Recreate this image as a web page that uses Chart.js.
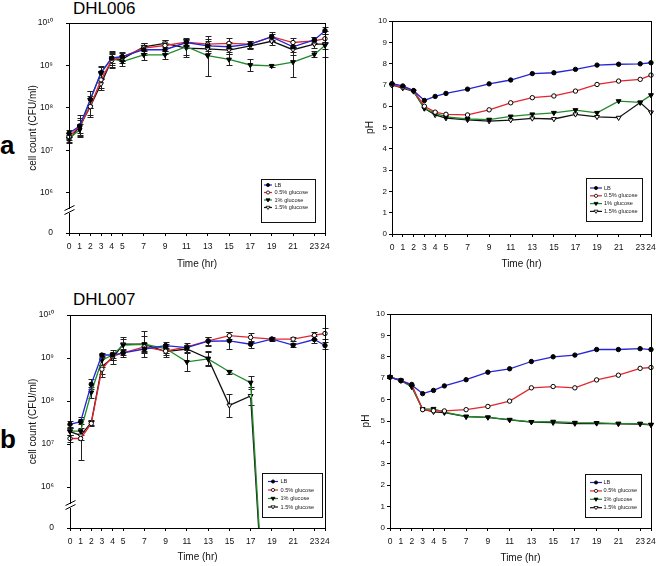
<!DOCTYPE html>
<html><head><meta charset="utf-8">
<script src="https://cdn.jsdelivr.net/npm/chart.js@4.4.1/dist/chart.umd.min.js"></script>
<style>
html,body{margin:0;padding:0;background:#fff;}
body{width:656px;height:566px;position:relative;overflow:hidden;font-family:'Liberation Sans',Arial,sans-serif;}
canvas{position:absolute;}
.lbl{position:absolute;line-height:1;color:#000;white-space:nowrap;}
</style></head><body>
<div class="lbl" style="left:73px;top:0px;font-size:17px;">DHL006</div>
<div class="lbl" style="left:73px;top:291px;font-size:17px;">DHL007</div>
<div class="lbl" style="left:0px;top:132px;font-size:26px;font-weight:bold;">a</div>
<div class="lbl" style="left:0px;top:426px;font-size:26px;font-weight:bold;">b</div>
<canvas id="c1" width="330" height="282" style="left:0;top:0;"></canvas>
<canvas id="c2" width="326" height="282" style="left:330px;top:0;"></canvas>
<canvas id="c3" width="330" height="284" style="left:0;top:282px;"></canvas>
<canvas id="c4" width="326" height="284" style="left:330px;top:282px;"></canvas>
<script>
// ---------- data ----------
const timeHours = [0,1,2,3,4,5,7,9,11,13,15,17,19,21,23,24];
const seriesLabels = ['LB','0.5% glucose','1% glucose','1.5% glucose'];

const cfuTickValues = [5.05,6,7,8,9,10];          // log10 positions ("0" sits at the broken-axis bottom)
const cfuTickLabels = ['0','10⁶','10⁷','10⁸','10⁹','10¹⁰'];
const phTickValues = [0,1,2,3,4,5,6,7,8,9,10];

// DHL006 cell count, log10(CFU/ml)
const dhl006CfuLB  = [7.40,7.57,8.20,8.83,9.17,9.21,9.37,9.37,9.54,9.46,9.44,9.50,9.67,9.44,9.60,9.82];
const dhl006Cfu05  = [7.32,7.57,8.03,8.66,9.12,9.20,9.41,9.47,9.55,9.50,9.52,9.50,9.68,9.54,9.58,9.63];
const dhl006Cfu1   = [7.28,7.48,8.19,8.82,9.17,9.09,9.25,9.25,9.44,9.23,9.14,9.01,8.99,9.08,9.26,9.47];
const dhl006Cfu15  = [7.24,7.56,8.03,8.56,9.13,9.15,9.44,9.52,9.41,9.39,9.36,9.46,9.57,9.37,9.50,9.50];
// DHL006 error (± log10)
const dhl006ErrLB  = [0.08,0.20,0.20,0.15,0.15,0.10,0.12,0.10,0.08,0.12,0.12,0.08,0.08,0.12,0.08,0.08];
const dhl006Err05  = [0.08,0.25,0.20,0.20,0.15,0.10,0.12,0.12,0.08,0.12,0.12,0.08,0.10,0.10,0.08,0.10];
const dhl006Err1   = [0.08,0.15,0.20,0.15,0.12,0.10,0.12,0.10,0.20,0.47,0.12,0.15,0.03,0.35,0.07,0.08];
const dhl006Err15  = [0.08,0.15,0.25,0.15,0.20,0.10,0.10,0.08,0.20,0.10,0.10,0.08,0.10,0.12,0.10,0.30];

// DHL007 cell count, log10(CFU/ml); 0 = no viable count (drops off the axis)
const dhl007CfuLB  = [7.46,7.52,8.39,9.07,9.07,9.12,9.21,9.29,9.24,9.39,9.40,9.32,9.44,9.30,9.43,9.29];
const dhl007Cfu05  = [7.13,7.13,7.48,8.74,9.04,9.12,9.26,9.16,9.26,9.40,9.52,9.48,9.44,9.44,9.53,9.57];
const dhl007Cfu1   = [7.30,7.30,8.20,8.95,9.07,9.30,9.32,9.22,8.91,8.98,8.68,8.43,0,0,0,0];
const dhl007Cfu15  = [7.29,7.20,7.50,8.80,9.00,9.32,9.32,9.15,9.21,8.99,7.90,8.12,0,0,0,0];
const dhl007ErrLB  = [0.08,0.06,0.12,0.05,0.06,0.06,0.08,0.08,0.06,0.10,0.20,0.08,0.04,0.05,0.08,0.08];
const dhl007Err05  = [0.08,0.50,0.05,0.10,0.08,0.10,0.10,0.08,0.08,0.10,0.08,0.10,0.03,0.05,0.08,0.12];
const dhl007Err1   = [0.10,0.08,0.12,0.15,0.12,0.15,0.20,0.10,0.22,0.15,0.05,0.15,0,0,0,0];
const dhl007Err15  = [0.08,0.10,0.05,0.25,0.15,0.18,0.30,0.12,0.10,0.18,0.27,0.20,0,0,0,0];

// pH
const dhl006PhLB   = [7.06,6.95,6.73,6.27,6.46,6.60,6.80,7.05,7.23,7.53,7.57,7.73,7.93,7.97,7.99,8.04];
const dhl006Ph05   = [7.00,6.89,6.73,6.00,5.72,5.62,5.59,5.83,6.16,6.40,6.48,6.71,7.02,7.18,7.26,7.46];
const dhl006Ph1    = [7.00,6.90,6.70,5.90,5.67,5.50,5.40,5.37,5.52,5.62,5.69,5.82,5.69,6.24,6.18,6.52];
const dhl006Ph15   = [7.00,6.85,6.70,5.90,5.59,5.44,5.36,5.30,5.35,5.43,5.40,5.62,5.50,5.46,6.17,5.71];
const dhl007PhLB   = [7.05,6.88,6.68,6.28,6.43,6.64,6.93,7.28,7.44,7.78,8.00,8.08,8.34,8.34,8.38,8.34];
const dhl007Ph05   = [7.05,6.90,6.71,5.53,5.48,5.47,5.53,5.68,5.93,6.55,6.61,6.55,6.92,7.14,7.46,7.50];
const dhl007Ph1    = [7.05,6.90,6.60,5.55,5.57,5.42,5.21,5.17,5.06,4.96,4.97,4.92,4.91,4.88,4.88,4.83];
const dhl007Ph15   = [7.05,6.90,6.60,5.55,5.43,5.39,5.20,5.17,5.05,4.95,4.92,4.88,4.89,4.87,4.86,4.82];

const axisBreakAt = 5.57;

// ---------- styles ----------
const FONT = "'Liberation Sans', Arial, sans-serif";
const STYLE = {
  colors: ['#2626d6','#e2262e','#228a2a','#111111'],
  markers: [
    {style:'circle', rotation:0, radius:2.2, fill:'#000'},
    {style:'circle', rotation:0, radius:2.2, fill:'#fff'},
    {style:'triangle', rotation:180, radius:2.8, fill:'#000'},
    {style:'triangle', rotation:180, radius:2.8, fill:'#fff'}
  ]
};

function buildDatasets(valueLists) {
  return valueLists.map((vals, i) => ({
    label: seriesLabels[i],
    data: timeHours.map((t, j) => ({x: t, y: vals[j]})),
    borderColor: STYLE.colors[i],
    backgroundColor: STYLE.colors[i],
    borderWidth: 1.3,
    pointStyle: STYLE.markers[i].style,
    pointRotation: STYLE.markers[i].rotation,
    pointRadius: STYLE.markers[i].radius,
    pointHoverRadius: STYLE.markers[i].radius,
    pointBackgroundColor: STYLE.markers[i].fill,
    pointBorderColor: '#000',
    pointBorderWidth: 1,
    tension: 0,
    clip: {left: 6, right: 6, top: 6, bottom: 0}
  }));
}

function drawMarker(ctx, m, x, y, r) {
  ctx.beginPath();
  if (m.style === 'circle') ctx.arc(x, y, r, 0, Math.PI * 2);
  else { ctx.moveTo(x - r, y - r * 0.6); ctx.lineTo(x + r, y - r * 0.6); ctx.lineTo(x, y + r); ctx.closePath(); }
  ctx.fillStyle = m.fill; ctx.fill();
  ctx.strokeStyle = '#000'; ctx.lineWidth = 0.8; ctx.stroke();
}

function errorBarPlugin(errLists) {
  return {
    id: 'errorBars',
    beforeDatasetsDraw(chart) {
      const {ctx, chartArea: ca, scales: {x, y}} = chart;
      ctx.save();
      ctx.beginPath(); ctx.rect(ca.left - 6, ca.top - 6, ca.right - ca.left + 12, ca.bottom - ca.top + 6); ctx.clip();
      ctx.strokeStyle = '#222'; ctx.lineWidth = 1;
      chart.data.datasets.forEach((ds, i) => {
        const e = errLists[i];
        ds.data.forEach((p, j) => {
          const err = e[j]; if (!err) return;
          const px = Math.round(x.getPixelForValue(p.x)) + 0.5;
          const y1 = Math.round(y.getPixelForValue(p.y + err)) + 0.5;
          const y2 = Math.round(y.getPixelForValue(p.y - err)) + 0.5;
          ctx.beginPath();
          ctx.moveTo(px, y1); ctx.lineTo(px, y2);
          ctx.moveTo(px - 3, y1); ctx.lineTo(px + 3, y1);
          ctx.moveTo(px - 3, y2); ctx.lineTo(px + 3, y2);
          ctx.stroke();
        });
      });
      ctx.restore();
    }
  };
}

function framePlugin(lg, withBreak) {
  return {
    id: 'frameLegend',
    afterDraw(chart) {
      const ctx = chart.ctx, ca = chart.chartArea;
      ctx.save();
      ctx.strokeStyle = '#000'; ctx.lineWidth = 1;
      ctx.strokeRect(ca.left + 0.5, ca.top + 0.5, ca.right - ca.left, ca.bottom - ca.top);
      if (withBreak) {
        const yb = Math.round(chart.scales.y.getPixelForValue(axisBreakAt));
        const x = ca.left + 0.5;
        ctx.fillStyle = '#fff'; ctx.fillRect(x - 2, yb - 2, 4, 4);
        ctx.beginPath();
        ctx.moveTo(x - 5, yb - 0.5); ctx.lineTo(x + 5, yb - 5.5);
        ctx.moveTo(x - 5, yb + 3.5); ctx.lineTo(x + 5, yb - 1.5);
        ctx.stroke();
      }
      // legend box
      const x0 = Math.round(ca.right - lg.mr - lg.w), y0 = Math.round(ca.bottom - lg.mb - lg.h);
      ctx.fillStyle = '#fff'; ctx.fillRect(x0, y0, lg.w, lg.h);
      ctx.strokeStyle = '#111'; ctx.lineWidth = 1;
      ctx.strokeRect(x0 + 0.5, y0 + 0.5, lg.w, lg.h);
      ctx.font = '5.6px ' + FONT; ctx.textBaseline = 'middle'; ctx.textAlign = 'left';
      chart.data.datasets.forEach((ds, i) => {
        const yy = y0 + lg.first + i * lg.step;
        ctx.strokeStyle = ds.borderColor; ctx.lineWidth = 1.2;
        ctx.beginPath(); ctx.moveTo(x0 + lg.s0, yy); ctx.lineTo(x0 + lg.s1, yy); ctx.stroke();
        drawMarker(ctx, STYLE.markers[i], x0 + (lg.s0 + lg.s1) / 2, yy, i < 2 ? 1.6 : 2.0);
        ctx.fillStyle = '#222'; ctx.fillText(ds.label, x0 + lg.tx, yy);
      });
      ctx.restore();
    }
  };
}

function makeChart(id, valueLists, errLists, kind, L, lg) {
  const isCfu = kind === 'cfu';
  const plugins = [framePlugin(lg, isCfu)];
  if (errLists) plugins.push(errorBarPlugin(errLists));
  return new Chart(document.getElementById(id), {
    type: 'line',
    data: {datasets: buildDatasets(valueLists)},
    plugins,
    options: {
      responsive: false, animation: false, devicePixelRatio: 1,
      layout: {padding: {left: 0, top: L.padT, right: L.padR, bottom: 0}},
      plugins: {legend: {display: false}, tooltip: {enabled: false}},
      scales: {
        x: {
          type: 'linear', min: 0, max: 24,
          afterBuildTicks: s => { s.ticks = timeHours.map(v => ({value: v})); },
          afterFit: s => { s.height = L.xH; s.paddingLeft = 0; s.paddingRight = 0; },
          ticks: {autoSkip: false, maxRotation: 0, minRotation: 0, padding: 5.5, color: '#111',
                  font: {family: FONT, size: 8.5}, callback: v => String(v)},
          grid: {display: true, drawOnChartArea: false, drawTicks: true, tickLength: 3, color: '#000', tickColor: '#000'},
          border: {display: false},
          title: {display: true, text: 'Time (hr)', color: '#111', font: {family: FONT, size: 10},
                  padding: {top: 0, bottom: L.xTitlePad}}
        },
        y: {
          type: 'linear',
          min: isCfu ? cfuTickValues[0] : 0, max: 10,
          afterBuildTicks: s => { s.ticks = (isCfu ? cfuTickValues : phTickValues).map(v => ({value: v})); },
          afterFit: s => { s.width = L.yW; s.paddingTop = 0; s.paddingBottom = 0; },
          ticks: {autoSkip: false, padding: isCfu ? 13 : 2, color: '#111',
                  font: {family: FONT, size: isCfu ? 8.5 : 8},
                  callback: (v, i) => isCfu ? cfuTickLabels[i] : String(phTickValues[i])},
          grid: {display: true, drawOnChartArea: false, drawTicks: true, tickLength: 3, color: '#000', tickColor: '#000'},
          border: {display: false},
          title: {display: true, text: isCfu ? 'cell count (CFU/ml)' : 'pH', color: '#111',
                  font: {family: FONT, size: 10}, padding: {top: L.yTitlePad, bottom: 0}}
        }
      }
    }
  });
}

makeChart('c1', [dhl006CfuLB, dhl006Cfu05, dhl006Cfu1, dhl006Cfu15],
  [dhl006ErrLB, dhl006Err05, dhl006Err1, dhl006Err15], 'cfu',
  {padT: 23, padR: 5, yW: 69, xH: 49, xTitlePad: 11.5, yTitlePad: 27},
  {w: 54, h: 43, mr: 10, mb: 11, first: 6, step: 7.5, s0: 3, s1: 11, tx: 13.5});

makeChart('c2', [dhl006PhLB, dhl006Ph05, dhl006Ph1, dhl006Ph15], null, 'ph',
  {padT: 21, padR: 5, yW: 62, xH: 48, xTitlePad: 12, yTitlePad: 34},
  {w: 56, h: 43, mr: 9, mb: 13, first: 10, step: 7.8, s0: 4, s1: 16, tx: 18});

makeChart('c3', [dhl007CfuLB, dhl007Cfu05, dhl007Cfu1, dhl007Cfu15],
  [dhl007ErrLB, dhl007Err05, dhl007Err1, dhl007Err15], 'cfu',
  {padT: 33, padR: 5, yW: 70, xH: 38, xTitlePad: 3, yTitlePad: 27},
  {w: 60, h: 44, mr: 3, mb: 11, first: 8.5, step: 8.5, s0: 6, s1: 16, tx: 18.5});

makeChart('c4', [dhl007PhLB, dhl007Ph05, dhl007Ph1, dhl007Ph15], null, 'ph',
  {padT: 32, padR: 5, yW: 60, xH: 38, xTitlePad: 2, yTitlePad: 30},
  {w: 56, h: 43, mr: 10, mb: 11, first: 8.5, step: 8.4, s0: 5, s1: 17, tx: 18.5});
</script>
</body></html>
